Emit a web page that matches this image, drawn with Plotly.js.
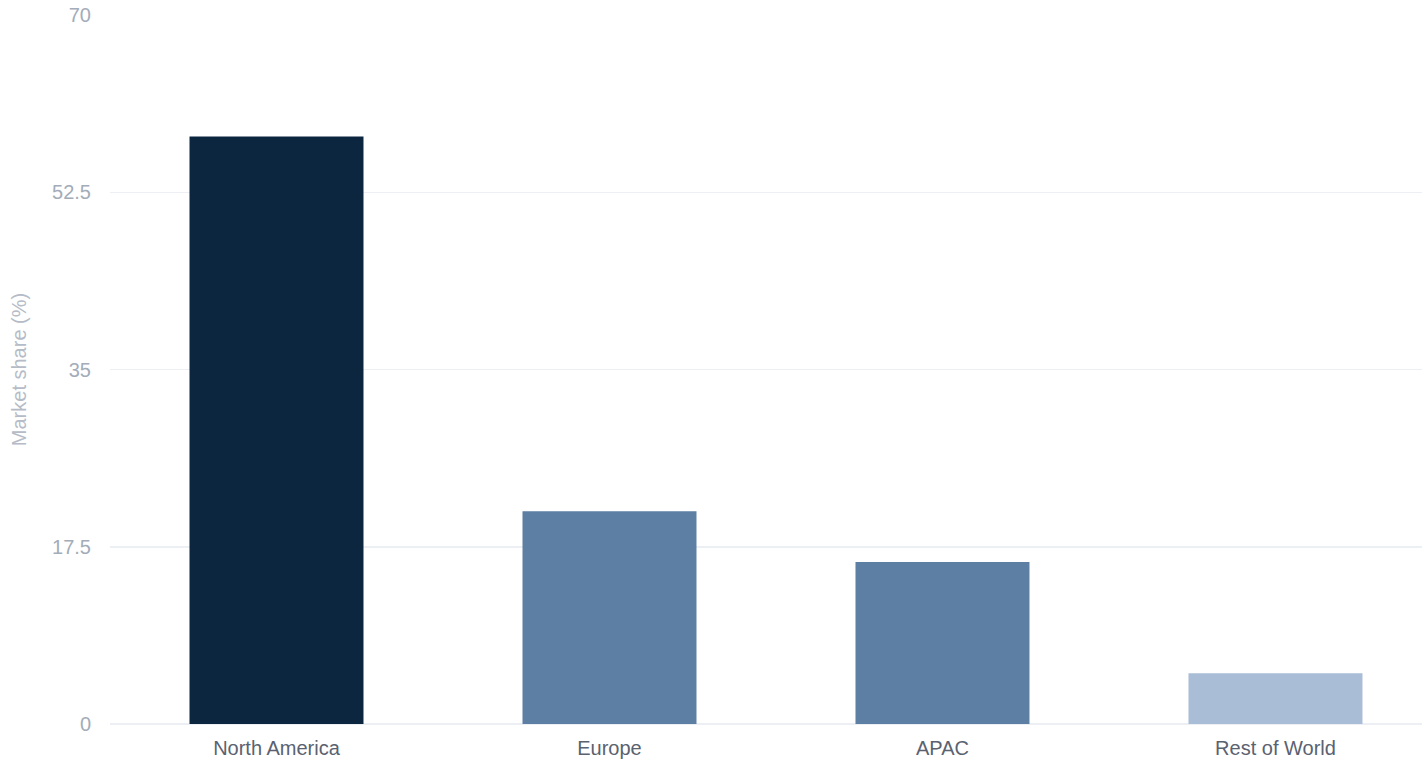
<!DOCTYPE html>
<html>
<head>
<meta charset="utf-8">
<script src="https://cdn.plot.ly/plotly-3.0.1.min.js"></script>
<style>html,body{margin:0;padding:0;background:#fff;overflow:hidden;}#chart{width:1422px;height:759px;}</style>
</head>
<body>
<div id="chart"></div>
<script>
const regions = ["North America", "Europe", "APAC", "Rest of World"];
const marketShare = [58, 21, 16, 5];
const barColors = ["#0d2640", "#5d7fa3", "#5d7fa3", "#a9bdd6"];
const yTicks = [0, 17.5, 35, 52.5, 70];

const data = [{
  type: "bar",
  x: regions,
  y: marketShare,
  marker: {color: barColors, line: {width: 0}},
  hoverinfo: "x+y"
}];

const layout = {
  width: 1422,
  height: 759,
  margin: {l: 110, r: 0, t: 15, b: 35},
  paper_bgcolor: "#ffffff",
  plot_bgcolor: "#ffffff",
  font: {family: "Liberation Sans, Arial, sans-serif", size: 20, color: "#5a6270"},
  bargap: 0.4775,
  showlegend: false,
  xaxis: {
    type: "category",
    range: [-0.5, 3.44],
    showgrid: false,
    showline: false,
    zeroline: false,
    ticks: "",
    ticklabelstandoff: 10,
    tickfont: {size: 20, color: "#5a6270"}
  },
  yaxis: {
    range: [0, 70],
    tickvals: yTicks,
    ticktext: yTicks.map(String),
    showgrid: true,
    gridcolor: "#eceff3",
    gridwidth: 1.5,
    zeroline: true,
    zerolinecolor: "#eceff3",
    zerolinewidth: 1.5,
    showline: false,
    ticks: "",
    ticklabelstandoff: 18,
    tickfont: {size: 20, color: "#a3acb9"},
    title: {text: "Market share (%)", font: {size: 20, color: "#b5bcc7"}, standoff: 20}
  }
};

Plotly.newPlot("chart", data, layout, {displayModeBar: false, staticPlot: true});
</script>
</body>
</html>
